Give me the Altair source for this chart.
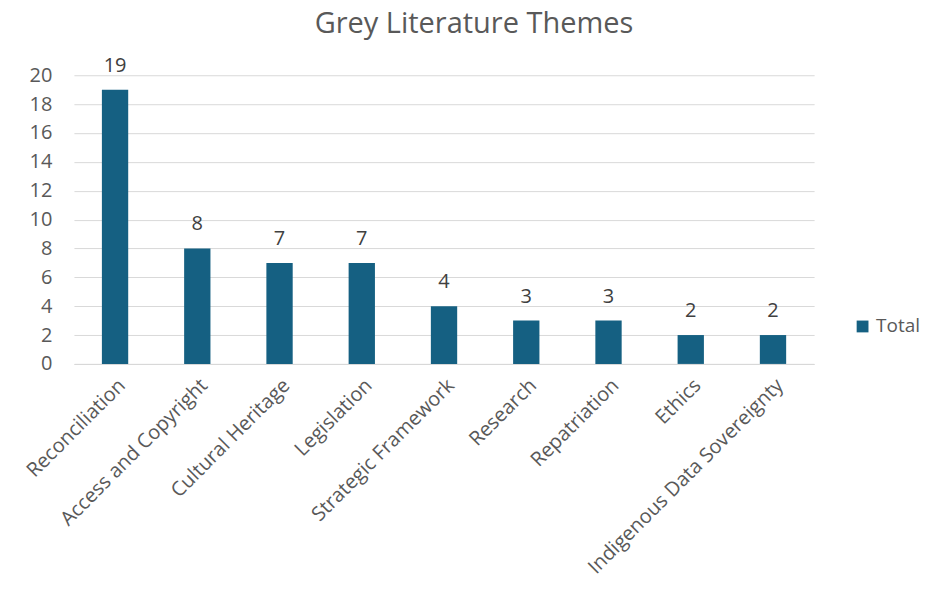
import altair as alt
import pandas as pd

themes = ["Reconciliation", "Access and Copyright", "Cultural Heritage", "Legislation",
          "Strategic Framework", "Research", "Repatriation", "Ethics",
          "Indigenous Data Sovereignty"]
totals = [19, 8, 7, 7, 4, 3, 3, 2, 2]
series = ["Total"] * len(themes)

df = pd.DataFrame({"Theme": themes, "Value": totals, "Series": series})

FONT = "Open Sans"
GREY = "#595959"

base = alt.Chart(df).encode(
    x=alt.X("Theme:N", sort=themes, title=None,
            scale=alt.Scale(paddingInner=0.68, paddingOuter=0.34),
            axis=alt.Axis(labelAngle=-45, labelAlign="right", labelBaseline="top",
                          labelFontSize=20, labelColor=GREY, labelFont=FONT,
                          ticks=False, domainColor="#d9d9d9", labelPadding=11,
                          labelLimit=400)),
    y=alt.Y("Value:Q", title=None,
            scale=alt.Scale(domain=[0, 20], nice=False),
            axis=alt.Axis(values=list(range(0, 21, 2)), labelFontSize=20,
                          labelColor=GREY, labelFont=FONT, ticks=False,
                          domain=False, gridColor="#d9d9d9", labelPadding=22)),
)

bars = base.mark_bar(color="#156082").encode(
    color=alt.Color("Series:N", scale=alt.Scale(range=["#156082"]),
                    legend=alt.Legend(title=None, orient="none", legendX=780,
                                      legendY=242, symbolType="square",
                                      symbolSize=140, labelFontSize=19,
                                      labelColor=GREY, labelFont=FONT,
                                      symbolStrokeWidth=0, labelOffset=4))
)

labels = base.mark_text(baseline="alphabetic", dy=-18, fontSize=20, color="#404040",
                        font=FONT).encode(text="Value:Q")

chart = (bars + labels).properties(
    width=741, height=289,
    title=alt.TitleParams("Grey Literature Themes", fontSize=29, color=GREY,
                          font=FONT, fontWeight="normal", offset=17, dx=30),
    autosize=alt.AutoSizeParams(type="none"),
    padding={"left": 66, "top": 67, "right": 110, "bottom": 220},
).configure_view(stroke=None)

chart.save("out.html", embed_options={"renderer": "svg", "actions": False})
